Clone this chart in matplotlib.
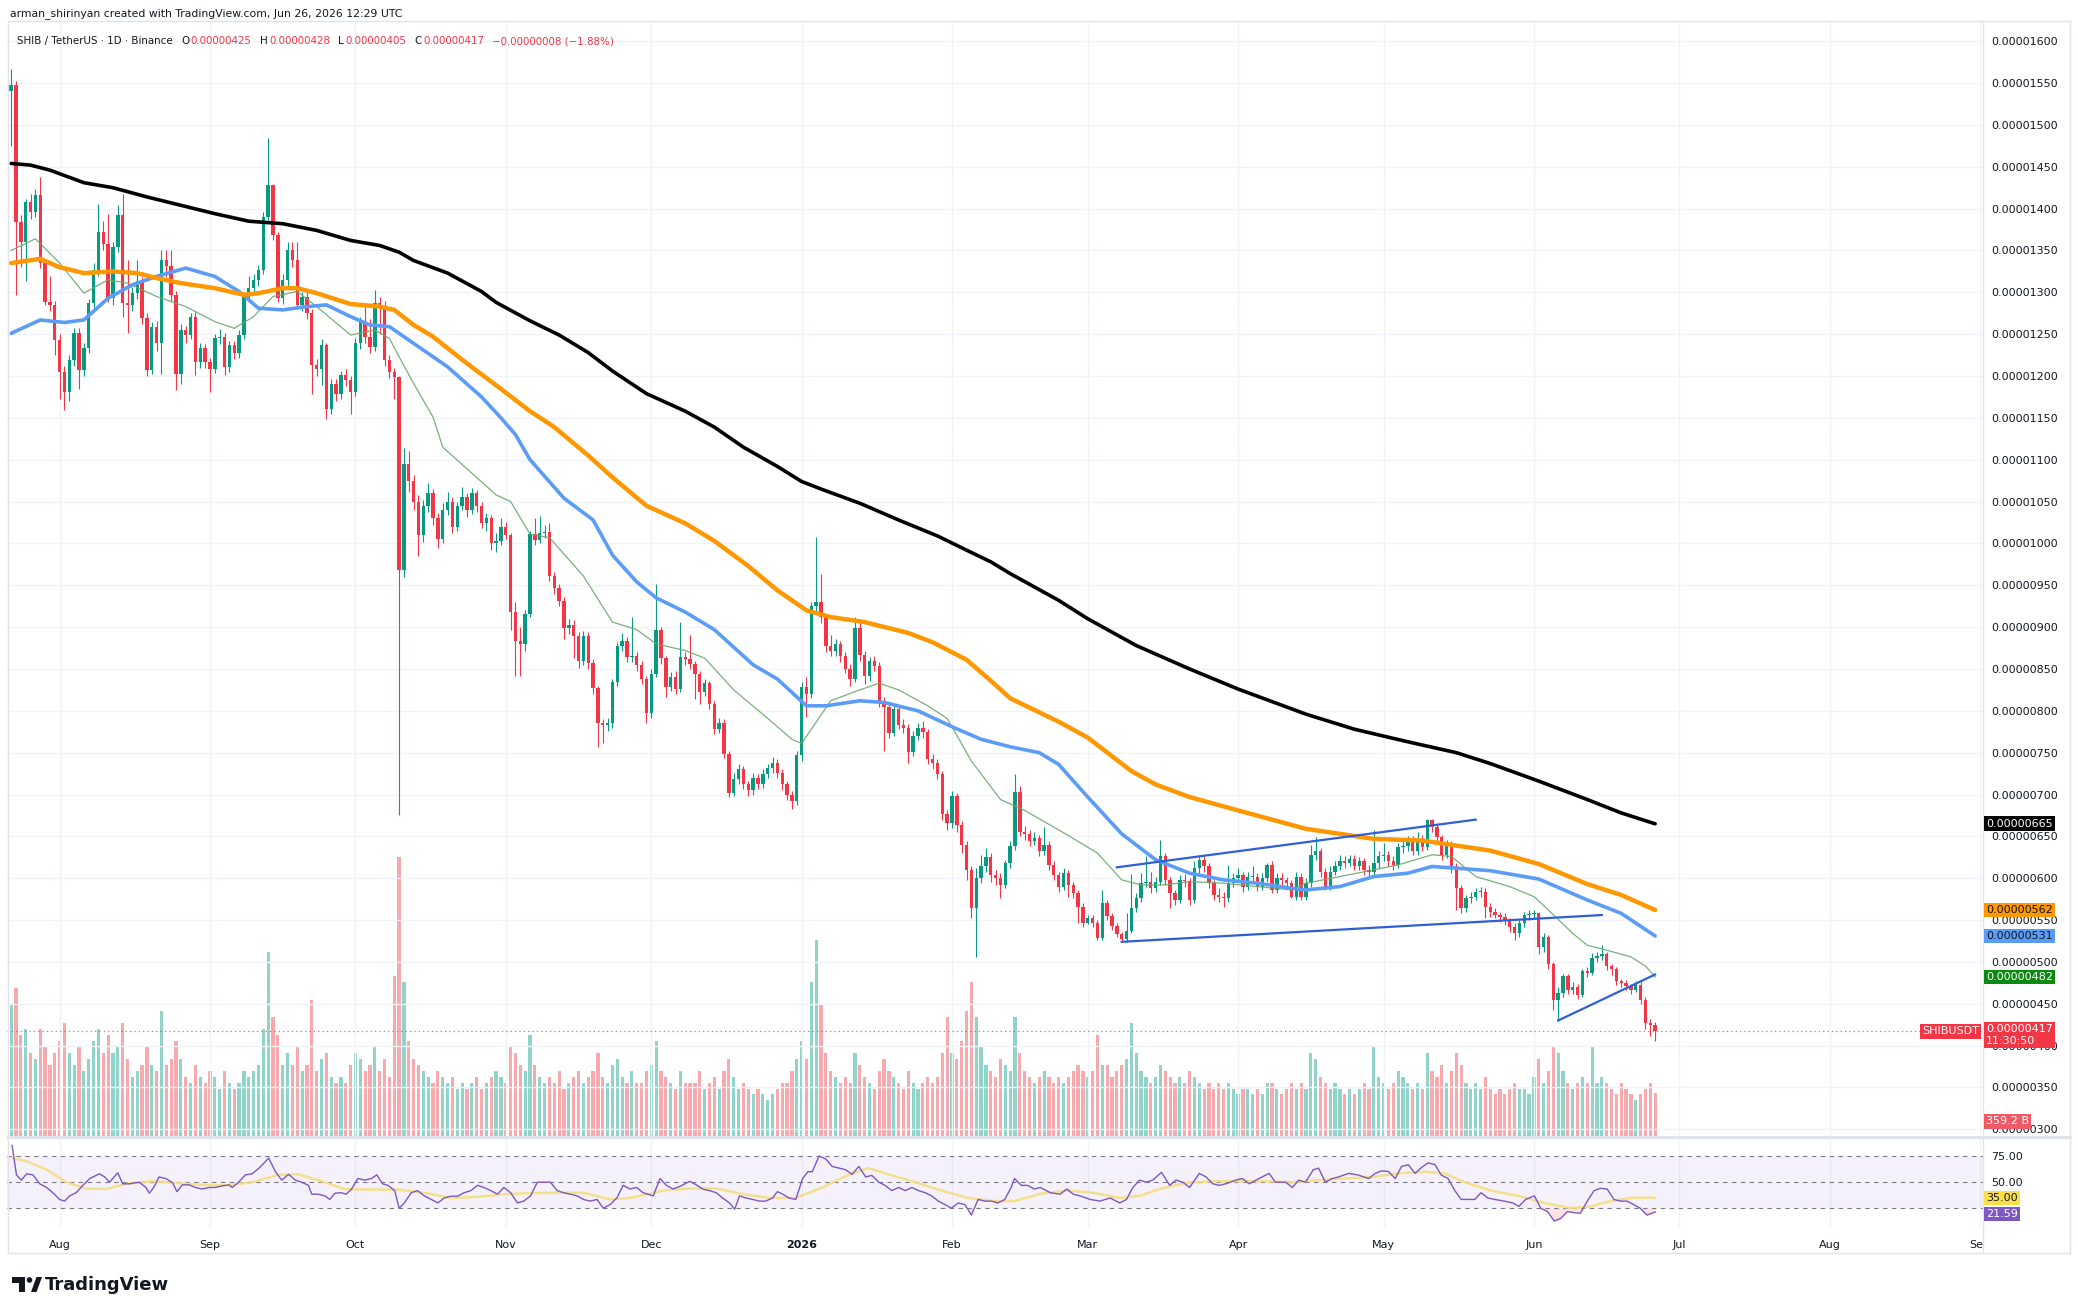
#!/usr/bin/env python3
# SHIB/USDT daily chart, TradingView style (price + MAs + volume, RSI pane)
import numpy as np
import pandas as pd
import matplotlib
matplotlib.use("Agg")
import matplotlib.pyplot as plt
from matplotlib import transforms
from matplotlib.lines import Line2D
from matplotlib.patches import Polygon, Ellipse
from matplotlib.offsetbox import TextArea, HPacker, AnchoredOffsetbox

W, H = 2078, 1314
UP, DOWN = "#089981", "#F23645"
TXT = "#131722"

# --- data (prices in units of 1e-8 USDT) ---
start_date = "2025-07-22"
first_open = 1540
closes = [
    1548, 1384, 1360, 1408, 1396, 1416, 1335, 1289, 1285, 1243,
    1205, 1181, 1219, 1251, 1207, 1233, 1287, 1327, 1372, 1358,
    1293, 1354, 1392, 1287, 1285, 1299, 1313, 1269, 1207, 1259,
    1239, 1339, 1331, 1297, 1203, 1255, 1249, 1271, 1217, 1233,
    1217, 1209, 1245, 1247, 1211, 1237, 1227, 1249, 1295, 1305,
    1315, 1327, 1390, 1428, 1368, 1293, 1315, 1350, 1339, 1285,
    1295, 1275, 1213, 1209, 1237, 1161, 1191, 1179, 1201, 1195,
    1181, 1239, 1265, 1247, 1235, 1287, 1283, 1219, 1205, 1199,
    968, 1095, 1075, 1050, 1010, 1045, 1060, 1030, 1005, 1040,
    1050, 1020, 1045, 1055, 1040, 1060, 1045, 1025, 1030, 1000,
    1003, 1020, 1010, 918, 884, 880, 916, 1011, 1004, 1012,
    1014, 961, 947, 931, 899, 903, 889, 859, 889, 857,
    827, 785, 783, 785, 834, 878, 884, 864, 866, 855,
    838, 797, 844, 897, 863, 829, 840, 826, 864, 862,
    856, 844, 823, 833, 808, 778, 785, 749, 702, 718,
    730, 712, 705, 720, 713, 725, 732, 738, 726, 712,
    700, 692, 747, 829, 820, 925, 930, 912, 878, 872,
    880, 865, 850, 838, 899, 867, 842, 859, 854, 810,
    805, 774, 802, 783, 780, 751, 770, 780, 775, 742,
    738, 725, 677, 666, 698, 664, 640, 610, 565, 600,
    615, 625, 604, 600, 592, 618, 639, 703, 655, 653,
    645, 648, 632, 640, 616, 604, 590, 606, 592, 582,
    566, 547, 552, 547, 528, 570, 555, 543, 533, 527,
    537, 564, 576, 594, 596, 588, 596, 626, 598, 582,
    574, 598, 597, 574, 612, 622, 614, 594, 580, 578,
    576, 594, 600, 604, 590, 602, 602, 590, 600, 616,
    586, 600, 598, 594, 578, 602, 578, 594, 628, 633,
    608, 590, 608, 614, 620, 618, 623, 615, 621, 610,
    608, 618, 626, 628, 620, 616, 637, 639, 645, 633,
    647, 637, 669, 661, 649, 628, 640, 614, 588, 564,
    576, 578, 584, 584, 566, 560, 556, 554, 549, 542,
    534, 546, 556, 557, 558, 518, 530, 497, 455, 463,
    483, 467, 470, 461, 489, 487, 505, 507, 509, 495,
    491, 477, 475, 471, 467, 473, 455, 427, 425, 417,
]
highs = [
    1567, 1552, 1392, 1412, 1418, 1424, 1438, 1340, 1319, 1290,
    1250, 1212, 1225, 1257, 1257, 1240, 1292, 1335, 1406, 1385,
    1394, 1360, 1404, 1418, 1339, 1306, 1339, 1318, 1275, 1265,
    1266, 1350, 1350, 1350, 1302, 1262, 1260, 1275, 1276, 1240,
    1238, 1222, 1250, 1256, 1252, 1242, 1242, 1255, 1300, 1319,
    1322, 1333, 1396, 1485, 1430, 1372, 1322, 1360, 1360, 1360,
    1301, 1300, 1280, 1220, 1244, 1240, 1196, 1197, 1206, 1208,
    1200, 1245, 1270, 1287, 1268, 1303, 1295, 1290, 1225, 1210,
    1200, 1114, 1110, 1082, 1058, 1052, 1072, 1065, 1036, 1048,
    1062, 1055, 1050, 1068, 1060, 1066, 1064, 1050, 1036, 1034,
    1012, 1030, 1026, 1012, 930, 900, 920, 1015, 1030, 1033,
    1022, 1025, 966, 952, 936, 910, 908, 894, 895, 894,
    862, 830, 790, 792, 838, 882, 893, 888, 912, 870,
    860, 842, 850, 951, 900, 866, 846, 848, 906, 870,
    891, 860, 848, 838, 836, 812, 792, 790, 752, 726,
    736, 734, 716, 726, 724, 730, 737, 745, 742, 730,
    716, 704, 752, 835, 840, 930, 1008, 963, 915, 890,
    886, 884, 870, 856, 912, 906, 872, 864, 866, 858,
    816, 808, 808, 806, 790, 784, 776, 786, 788, 778,
    748, 742, 728, 682, 704, 702, 668, 645, 614, 612,
    628, 636, 630, 610, 606, 622, 645, 724, 710, 662,
    658, 655, 652, 661, 644, 620, 608, 612, 610, 596,
    586, 570, 556, 556, 550, 586, 574, 558, 546, 536,
    559, 605, 582, 606, 627, 608, 602, 646, 630, 602,
    586, 604, 605, 600, 621, 628, 626, 618, 598, 588,
    584, 616, 606, 612, 608, 608, 614, 606, 606, 618,
    620, 606, 606, 602, 598, 608, 606, 600, 640, 649,
    636, 612, 614, 620, 628, 626, 628, 628, 625, 624,
    616, 658, 632, 642, 632, 626, 642, 647, 651, 650,
    655, 652, 671, 671, 666, 652, 646, 644, 618, 592,
    580, 584, 588, 590, 588, 570, 564, 560, 558, 552,
    546, 550, 560, 562, 562, 560, 534, 532, 500, 470,
    486, 486, 476, 474, 492, 494, 511, 512, 520, 512,
    498, 494, 480, 478, 474, 477, 476, 458, 432, 428,
]
lows = [
    1475, 1297, 1330, 1313, 1388, 1390, 1329, 1285, 1278, 1225,
    1173, 1159, 1170, 1212, 1185, 1200, 1228, 1280, 1320, 1350,
    1288, 1285, 1348, 1271, 1251, 1278, 1292, 1262, 1200, 1203,
    1230, 1203, 1318, 1290, 1183, 1191, 1240, 1244, 1201, 1210,
    1210, 1181, 1204, 1238, 1201, 1205, 1220, 1222, 1244, 1290,
    1298, 1308, 1322, 1385, 1362, 1288, 1286, 1308, 1330, 1280,
    1278, 1268, 1179, 1200, 1189, 1149, 1155, 1170, 1172, 1188,
    1155, 1176, 1232, 1240, 1228, 1230, 1250, 1212, 1198, 1173,
    675, 960, 1062, 1040, 985, 1002, 1038, 1022, 995, 1000,
    1034, 1012, 1015, 1040, 1032, 1035, 1038, 1018, 1015, 992,
    990, 998, 1005, 897, 842, 842, 872, 912, 998, 1000,
    1006, 955, 940, 925, 886, 892, 863, 851, 855, 850,
    820, 757, 762, 776, 780, 830, 872, 858, 858, 848,
    832, 786, 792, 840, 856, 816, 824, 820, 822, 855,
    850, 814, 808, 818, 802, 772, 774, 744, 697, 698,
    712, 706, 698, 700, 706, 708, 720, 726, 720, 705,
    694, 683, 688, 740, 793, 815, 918, 905, 870, 865,
    866, 858, 845, 830, 834, 860, 832, 836, 848, 804,
    752, 768, 770, 778, 774, 738, 746, 765, 768, 736,
    730, 718, 670, 658, 660, 655, 630, 598, 552, 506,
    594, 608, 596, 592, 576, 588, 612, 634, 650, 646,
    638, 640, 626, 628, 610, 598, 584, 586, 578, 576,
    547, 542, 545, 542, 526, 526, 550, 538, 530, 524,
    524, 534, 560, 572, 590, 582, 584, 592, 592, 564,
    568, 570, 590, 568, 570, 606, 608, 588, 574, 572,
    566, 572, 590, 596, 584, 586, 596, 585, 586, 596,
    582, 582, 592, 588, 576, 574, 574, 574, 590, 622,
    602, 586, 586, 604, 610, 612, 614, 610, 610, 604,
    602, 604, 612, 620, 614, 610, 612, 630, 632, 628,
    628, 632, 634, 655, 644, 622, 624, 606, 562, 558,
    560, 570, 574, 578, 552, 554, 552, 548, 544, 536,
    526, 530, 542, 550, 552, 510, 512, 492, 443, 431,
    458, 462, 462, 456, 458, 482, 484, 500, 502, 490,
    484, 472, 470, 466, 462, 464, 450, 420, 412, 405,
]
# volume in billions SHIB
volumes = [
    1100, 1250, 850, 900, 700, 650, 900, 750, 600, 700,
    800, 950, 700, 600, 750, 550, 650, 800, 900, 700,
    850, 700, 750, 950, 650, 500, 550, 600, 750, 600,
    550, 1050, 600, 650, 800, 650, 500, 450, 600, 500,
    450, 550, 500, 400, 550, 450, 400, 450, 550, 500,
    550, 600, 900, 1550, 1000, 850, 600, 700, 600, 750,
    550, 600, 1150, 550, 650, 700, 500, 450, 500, 450,
    600, 700, 650, 550, 600, 750, 550, 650, 500, 1350,
    2350, 1300, 800, 650, 600, 550, 500, 450, 550, 500,
    450, 500, 400, 450, 400, 450, 500, 400, 450, 500,
    550, 500, 450, 750, 700, 600, 550, 850, 600, 500,
    450, 500, 450, 550, 400, 450, 500, 550, 450, 500,
    550, 700, 500, 450, 600, 650, 500, 450, 550, 450,
    450, 550, 600, 800, 550, 500, 450, 400, 550, 450,
    450, 450, 550, 400, 450, 500, 400, 550, 650, 500,
    400, 450, 400, 350, 400, 350, 300, 350, 400, 450,
    450, 550, 650, 800, 650, 1300, 1650, 1100, 700, 550,
    500, 450, 500, 450, 700, 600, 500, 450, 400, 550,
    650, 550, 500, 450, 400, 550, 450, 400, 450, 500,
    450, 500, 700, 1000, 700, 650, 800, 1050, 1300, 1000,
    750, 600, 550, 500, 650, 600, 550, 1000, 700, 550,
    500, 450, 500, 550, 500, 450, 500, 450, 500, 550,
    600, 550, 500, 550, 850, 600, 600, 500, 550, 600,
    650, 950, 700, 550, 500, 450, 500, 600, 550, 500,
    450, 500, 450, 550, 500, 450, 400, 450, 400, 450,
    400, 450, 400, 350, 400, 400, 350, 400, 350, 450,
    450, 400, 350, 400, 450, 400, 450, 400, 700, 650,
    500, 450, 400, 450, 400, 350, 400, 350, 400, 450,
    400, 750, 500, 450, 400, 450, 550, 500, 450, 400,
    450, 400, 700, 550, 500, 600, 450, 550, 700, 600,
    450, 400, 450, 400, 500, 400, 350, 400, 350, 400,
    450, 400, 400, 350, 500, 650, 450, 550, 750, 700,
    550, 450, 400, 450, 500, 450, 750, 450, 500, 450,
    400, 350, 450, 400, 350, 300, 350, 400, 450, 359.2,
]

# moving averages (day index, value)
ma200_days = [0, 4, 8, 15, 21, 28, 35, 42, 49, 56, 63, 70, 76, 80, 83, 90, 97, 100, 107, 113,
              119, 124, 131, 139, 145, 151, 158, 163, 167, 175, 183, 191, 197, 202, 206, 216, 222, 232, 243, 253,
              267, 277, 288, 298, 305, 315, 325, 332, 339]
ma200_vals = [1454, 1452, 1446, 1431, 1425, 1414, 1404, 1394, 1385, 1382, 1374, 1362, 1356, 1348, 1338, 1323, 1301, 1288, 1266, 1249,
              1228, 1206, 1179, 1158, 1139, 1115, 1092, 1074, 1065, 1048, 1028, 1009, 992, 978, 964, 932, 910, 878, 850, 826,
              796, 778, 763, 750, 737, 716, 694, 678, 665]
ma100_days = [0, 6, 10, 15, 21, 26, 30, 35, 42, 48, 51, 56, 59, 63, 70, 76, 79, 83, 87, 94,
              100, 107, 112, 119, 124, 131, 139, 145, 152, 158, 164, 169, 176, 185, 190, 197, 202, 206, 216, 222,
              231, 236, 243, 253, 267, 274, 281, 291, 298, 305, 315, 325, 332, 339]
ma100_vals = [1335, 1340, 1330, 1323, 1325, 1323, 1317, 1311, 1305, 1297, 1299, 1305, 1305, 1299, 1286, 1283, 1279, 1261, 1247, 1215,
              1189, 1158, 1139, 1105, 1079, 1045, 1024, 1003, 973, 944, 920, 912, 906, 893, 882, 861, 836, 815, 787, 768,
              728, 712, 697, 681, 659, 653, 647, 645, 639, 633, 617, 593, 580, 562]
ma50_days = [0, 6, 11, 15, 20, 25, 30, 36, 42, 47, 51, 56, 61, 65, 70, 74, 78, 83, 90, 97,
             101, 104, 107, 114, 120, 124, 129, 133, 139, 145, 153, 158, 164, 168, 175, 180, 187, 194, 200, 206,
             212, 216, 222, 229, 236, 243, 250, 257, 264, 267, 274, 281, 288, 293, 298, 305, 315, 325, 332, 339]
ma50_vals = [1251, 1267, 1264, 1267, 1293, 1309, 1319, 1329, 1319, 1301, 1281, 1279, 1283, 1285, 1271, 1261, 1259, 1239, 1211, 1175,
             1150, 1130, 1100, 1054, 1028, 986, 954, 935, 918, 897, 855, 838, 806, 806, 812, 810, 800, 781, 766, 757,
             750, 736, 697, 653, 622, 606, 598, 594, 588, 586, 590, 602, 606, 614, 612, 609, 599, 574, 558, 531]
ma20_days = [0, 5, 10, 15, 20, 24, 30, 36, 42, 46, 50, 54, 59, 63, 70, 75, 78, 80, 83, 87,
             89, 100, 103, 107, 111, 118, 124, 129, 133, 139, 143, 149, 156, 161, 163, 165, 169, 175, 179, 183,
             189, 193, 198, 204, 209, 218, 224, 229, 233, 238, 243, 250, 257, 264, 267, 274, 281, 286, 293, 297,
             302, 309, 314, 317, 322, 325, 329, 334, 337, 339]
ma20_vals = [1350, 1364, 1335, 1299, 1315, 1311, 1295, 1283, 1265, 1257, 1271, 1295, 1301, 1283, 1249, 1255, 1245, 1223, 1191, 1151,
             1115, 1058, 1050, 1011, 1007, 961, 906, 897, 880, 872, 863, 825, 791, 766, 761, 778, 812, 825, 833, 825,
             806, 791, 740, 694, 681, 651, 630, 598, 592, 592, 596, 594, 590, 586, 594, 602, 610, 616, 628, 626,
             602, 590, 578, 562, 534, 520, 514, 506, 495, 482]

# drawn trend lines (day, price)
chan_top = ([228, 302], [613, 670])
chan_bot = ([229, 328], [524, 556])
tri_line = ([319, 339], [430, 485])

rsi_pts = [
    (0.2, 85), (1.1, 57), (2.1, 52), (3.2, 58), (4.5, 57), (5.9, 48.5), (7.3, 45), (8.6, 40), (10, 33.6), (11, 32),
    (12.1, 37), (13.4, 40), (14.8, 47), (16.2, 53.5), (18.2, 58), (19.3, 55), (20.3, 50), (22, 59), (23, 48.5), (24.4, 48.5),
    (26.4, 50), (27.8, 45), (28.5, 39.6), (29.4, 45), (30.5, 55), (31.9, 53.5), (33.3, 49.5), (34.2, 41), (35.3, 47.5), (36.7, 47.5),
    (38, 45), (39.4, 43.5), (40.8, 45), (42.1, 45), (43.5, 46.5), (44.9, 47.5), (45.6, 45), (46.9, 50), (48.3, 57), (49.7, 58),
    (51, 63), (52.1, 68), (53.1, 73), (54.5, 60), (55.8, 52), (57.2, 57.5), (58.6, 52), (59.9, 50), (61.3, 47), (62, 38.6),
    (63.3, 38.6), (64.7, 37), (65.7, 33.6), (66.8, 39.6), (68.1, 40), (69.1, 38.6), (70.2, 43.5), (71.5, 53.5), (72.9, 52), (74.3, 53.5),
    (75.4, 57), (76.6, 48.5), (77.7, 47), (79.1, 42), (80, 25.3), (81.1, 30.3), (82.5, 40), (83.8, 42), (85.2, 37), (86.6, 33.6),
    (88, 30.3), (89.3, 35), (90.7, 36.7), (92.1, 36.7), (93.4, 40), (94.8, 42), (96.2, 47), (97.5, 45), (98.9, 42), (100.3, 38.6),
    (101.6, 45), (103, 40), (104.4, 30.3), (105.7, 32), (107.1, 37), (108.5, 50), (109.8, 50), (111.2, 50), (112.6, 42), (113.9, 40),
    (115.3, 38.6), (116.7, 37), (118, 33.6), (119.4, 32), (120.8, 33.6), (122.1, 25.3), (123.5, 28.6), (124.9, 35), (126.2, 47), (127.6, 43.5),
    (129, 45), (130.3, 40), (132.4, 37), (133.8, 53.5), (135.1, 47), (136.5, 43.5), (137.9, 46), (139.9, 50.8), (141.3, 47.5), (142.6, 43.5),
    (144, 42), (145.4, 40), (146.7, 35), (148.1, 30.3), (149.2, 24.3), (150.2, 37), (151.5, 35), (152.9, 33.6), (154.3, 32), (155.6, 32),
    (157, 35), (158, 41), (159.1, 38.6), (160.4, 35), (161.8, 33.6), (163.2, 53.5), (164.3, 60), (165.2, 60), (166.6, 75), (168, 72),
    (169.3, 65), (170.7, 63.5), (172, 62), (173.4, 57.5), (174.8, 65), (176.2, 55), (177.5, 56.5), (178.9, 50), (180.2, 47), (181.6, 42),
    (183, 45), (184.4, 42), (185.7, 45), (187.1, 42), (188.5, 40), (189.8, 37), (191.2, 32), (192.6, 28.6), (193.9, 25.3), (195.3, 30.3),
    (196.7, 28.6), (198, 18.7), (199.4, 33.6), (200.8, 32), (202.1, 32), (203.5, 30.3), (204.9, 33.6), (206.2, 45), (206.9, 53.5), (208.3, 47),
    (209.6, 47), (211, 43.5), (212.2, 45), (214.3, 40), (216.3, 38.6), (217.7, 43.5), (219, 38.6), (220.4, 37), (222.5, 33.6), (224.5, 32),
    (226.6, 35), (228.6, 30.3), (230, 33.6), (231.3, 45), (232.7, 52), (234.1, 50), (235.4, 52), (237.2, 59.4), (238.9, 47), (240.2, 52),
    (241.6, 50), (243, 45), (245, 58.4), (246.4, 55), (247.8, 48.5), (249.1, 47), (250.5, 48.5), (252.5, 52), (253.9, 53.5), (255.3, 48.5),
    (257.3, 53.5), (259.4, 58.4), (260.7, 50), (262.8, 50), (264.2, 45), (265.5, 52), (266.9, 50), (268.5, 61.8), (269.6, 63.4), (271, 50),
    (272.4, 53.5), (273.7, 55), (275.8, 58.4), (277.8, 56.8), (279.9, 53.5), (281.3, 58.4), (282.6, 60.8), (284, 60.2), (285.4, 53.5), (286.7, 65),
    (288.1, 66.7), (289.5, 58.4), (290.8, 64), (292.2, 68.4), (293.6, 66.7), (294.9, 56.8), (296.3, 53.5), (297.7, 42), (299, 33.6), (300.4, 33.6),
    (301.8, 33.6), (303.1, 40), (304.5, 35), (305.9, 33.6), (307.9, 32), (309.6, 30.3), (310.9, 27), (312.3, 33.6), (314.1, 37), (315.4, 25.3),
    (316.8, 22), (318.2, 13), (319.5, 15.4), (320.9, 22), (322.3, 21), (323.6, 20.4), (325, 32), (326.4, 42), (327.7, 44.2), (329.1, 43.5),
    (330.5, 33.6), (331.8, 32), (333.2, 32), (334.6, 28.6), (335.9, 25.3), (337.3, 18.7), (339, 21.59),
]
rsi_ma_pts = [
    (0.2, 73), (3.2, 70), (7.3, 62), (11.4, 50), (15.5, 44), (19.6, 43.5), (23.7, 48.5), (29.2, 51), (33.3, 49.5), (38.7, 47.5),
    (44.2, 47), (49.7, 50), (55.1, 57), (59.2, 57.5), (63.3, 52), (68.8, 43.5), (74.3, 43), (79.7, 43), (85.2, 40), (90.7, 35),
    (96.2, 36), (101.6, 38.6), (107.1, 39.6), (112.6, 40), (118, 40), (123.5, 33.6), (127.6, 35), (134.4, 42), (139.9, 44), (145.4, 44),
    (150.9, 38.6), (156.3, 35), (161.8, 35), (167.3, 45), (172.7, 57), (176.8, 63.4), (180.9, 57.5), (186.4, 50), (191.9, 42), (197.3, 35),
    (202.8, 32), (206.9, 32), (212.2, 39), (217.7, 42), (223.1, 40), (228.6, 35), (232.7, 37), (236.8, 43.5), (242.3, 49.5), (247.8, 51),
    (253.2, 51), (258.7, 51), (264.2, 50), (269.6, 52), (275.1, 53.5), (280.6, 55), (286, 58.4), (291.5, 60), (295.6, 58.4), (299.7, 50),
    (305.2, 42), (310.7, 37), (316.1, 30.3), (321.6, 25.3), (325.7, 27), (329.8, 32), (333.9, 35), (338, 35.5), (339, 35.0),
]


def px_rect(x0, y0, x1, y1):
    return [x0 / W, 1 - y1 / H, (x1 - x0) / W, (y1 - y0) / H]


def P(x, y):
    return (x / W, 1 - y / H)


def fmt_price(v):
    return f"{v * 1e-8:.8f}"


dates = pd.date_range(start_date, periods=len(closes), freq="D")
t0 = dates[0]
x = np.arange(len(closes))
c = np.array(closes, float)
o = np.concatenate([[first_open], c[:-1]])
hi = np.array(highs, float)
lo = np.array(lows, float)
up = c >= o
cols = np.where(up, UP, DOWN)

months = pd.date_range("2025-08-01", "2026-09-01", freq="MS")
month_x = np.asarray((months - t0).days)
month_lbl = [str(m.year) if m.month == 1 else m.strftime("%b") for m in months]

fig = plt.figure(figsize=(W / 100, H / 100), dpi=100)
fig.patch.set_facecolor("white")

pane = px_rect(7, 22, 1983, 1136)
vax = fig.add_axes(pane, zorder=0)
ax = fig.add_axes(pane, zorder=1)
rax = fig.add_axes(px_rect(7, 1138, 1983, 1228), zorder=1)
XL = (-0.85, 406.6)
for a in (vax, ax, rax):
    a.set_xlim(*XL)
    for s in a.spines.values():
        s.set_visible(False)

# volume (overlay at the bottom of the price pane)
vax.set_ylim(0, 9390)
vcols = np.where(up, "#8fd3c9", "#f7a9ae")
vax.bar(x, volumes, width=0.66, color=vcols, linewidth=0)
vax.set_xticks([])
vax.set_yticks([])

# price pane
ax.patch.set_visible(False)
ax.set_ylim(292, 1623)
ax.set_yticks(np.arange(300, 1601, 50))
ax.set_yticklabels([fmt_price(v) for v in np.arange(300, 1601, 50)])
ax.yaxis.tick_right()
ax.tick_params(axis="y", length=0, pad=6, labelsize=8, labelcolor=TXT)
ax.set_xticks(month_x)
ax.tick_params(axis="x", length=0, labelbottom=False)
ax.grid(True, color="#f0f3fa", lw=1.0)
ax.set_axisbelow(True)

ax.vlines(x, lo, hi, colors=cols, lw=0.8, zorder=2)
ax.bar(x, np.maximum(np.abs(c - o), 1.0), bottom=np.minimum(o, c), width=0.7,
       color=cols, linewidth=0, zorder=2)

ax.plot(ma20_days, ma20_vals, color="#6aa86b", lw=0.9, alpha=0.9, zorder=3)
ax.plot(ma50_days, ma50_vals, color="#5b9cf6", lw=2.6, zorder=3, solid_capstyle="round", solid_joinstyle="round")
ax.plot(ma100_days, ma100_vals, color="#ff9800", lw=3.2, zorder=3, solid_capstyle="round", solid_joinstyle="round")
ax.plot(ma200_days, ma200_vals, color="#000000", lw=2.6, zorder=3, solid_capstyle="round", solid_joinstyle="round")

for days, vals in (chan_top, chan_bot, tri_line):
    ax.plot(days, vals, color="#2f5fd6", lw=1.6, zorder=4)

ax.axhline(closes[-1], color=DOWN, lw=0.9, ls=(0, (1, 2.5)), alpha=0.8, zorder=1)

# RSI pane
rax.set_ylim(6.4, 92.1)
rax.axhspan(25, 75, color="#7e57c2", alpha=0.08, lw=0)
for lvl in (75, 50, 25):
    rax.axhline(lvl, color="#787b86", lw=0.8, ls=(0, (4, 4)))
rx = np.array([p[0] for p in rsi_pts])
ry = np.array([p[1] for p in rsi_pts])
rax.fill_between(rx, ry, 25, where=ry < 25, interpolate=True, color="#f23645", alpha=0.15, lw=0)
rax.plot([p[0] for p in rsi_ma_pts], [p[1] for p in rsi_ma_pts], color="#f5dc7a", lw=1.8, alpha=0.85)
rax.plot(rx, ry, color="#7e57c2", lw=1.0)
rax.yaxis.tick_right()
rax.set_yticks([75, 50])
rax.set_yticklabels(["75.00", "50.00"])
rax.tick_params(axis="y", length=0, pad=6, labelsize=8, labelcolor=TXT)
rax.set_xticks(month_x)
rax.set_xticklabels(month_lbl)
rax.tick_params(axis="x", length=0, pad=9, labelsize=8, labelcolor=TXT)
rax.grid(True, axis="x", color="#f0f3fa", lw=1.0)
rax.set_axisbelow(True)
clipbox = transforms.TransformedBbox(transforms.Bbox([[0, 0], [1983 / W, 1]]), fig.transFigure)
for lbl in rax.get_xticklabels():
    if lbl.get_text() == "2026":
        lbl.set_fontweight("bold")
    lbl.set_clip_box(clipbox)
    lbl.set_clip_on(True)


# axis badges
def badge(axis, yval, text, bg, fg, dy=0, x0=1986, va="center", **kw):
    tr = transforms.blended_transform_factory(fig.transFigure, axis.transData)
    tr = transforms.offset_copy(tr, fig=fig, y=dy, units="dots")
    fig.text(x0 / W, yval, text, transform=tr, ha="left", va=va, fontsize=8, color=fg,
             bbox=dict(boxstyle="square,pad=0.22", fc=bg, ec="none"), zorder=5, **kw)


badge(ax, ma200_vals[-1], fmt_price(ma200_vals[-1]), "#000000", "white")
badge(ax, ma100_vals[-1], fmt_price(ma100_vals[-1]), "#ff9800", TXT)
badge(ax, ma50_vals[-1], fmt_price(ma50_vals[-1]), "#5b9cf6", TXT)
badge(ax, ma20_vals[-1], fmt_price(ma20_vals[-1]), "#0b8a12", "white")
badge(ax, closes[-1], fmt_price(closes[-1]) + "\n11:30:50", DOWN, "white", dy=7, va="top",
      linespacing=1.15)
badge(vax, volumes[-1], f"{volumes[-1]:.1f} B", "#ef5a66", "white", dy=-28)
badge(rax, rsi_ma_pts[-1][1], f"{rsi_ma_pts[-1][1]:.2f}", "#f9df4a", TXT)
badge(rax, rsi_ma_pts[-1][1], f"{rsi_pts[-1][1]:.2f}", "#7e57c2", "white", dy=-16)

sym_tr = transforms.blended_transform_factory(fig.transFigure, ax.transData)
fig.text(1979 / W, closes[-1], "SHIBUSDT", transform=sym_tr, ha="right", va="center",
         fontsize=8, color="white", bbox=dict(boxstyle="square,pad=0.22", fc=DOWN, ec="none"), zorder=5)

# header
fig.text(10 / W, 1 - 14 / H, "arman_shirinyan created with TradingView.com, Jun 26, 2026 12:29 UTC",
         fontsize=7.8, color=TXT, va="center")
o_last, h_last, l_last, c_last = closes[-2], highs[-1], lows[-1], closes[-1]
chg = c_last - o_last
groups = [
    [("SHIB / TetherUS · 1D · Binance", TXT)],
    [("O", TXT), (fmt_price(o_last), DOWN)],
    [("H", TXT), (fmt_price(h_last), DOWN)],
    [("L", TXT), (fmt_price(l_last), DOWN)],
    [("C", TXT), (fmt_price(c_last), DOWN)],
    [(f"\u2212{fmt_price(abs(chg))} (\u2212{abs(chg) / o_last * 100:.2f}%)", DOWN)],
]
boxes = []
for g in groups:
    parts = [TextArea(t, textprops=dict(color=col, fontsize=7.4)) for t, col in g]
    boxes.append(HPacker(children=parts, align="baseline", pad=0, sep=1))
legend = AnchoredOffsetbox(loc="center left", child=HPacker(children=boxes, align="baseline", pad=0, sep=6),
                           bbox_to_anchor=P(17, 41), bbox_transform=fig.transFigure,
                           frameon=False, pad=0, borderpad=0)
fig.add_artist(legend)

# frame lines
fc = "#e0e3eb"
for xs, ys, lw in (([8, 2070], [21, 21], 1), ([8, 2070], [1253, 1253], 1), ([8, 8], [21, 1253], 1),
                   ([2070, 2070], [21, 1253], 1), ([1983, 1983], [21, 1253], 1),
                   ([8, 2070], [1137, 1137], 2.2)):
    fig.add_artist(Line2D([v / W for v in xs], [1 - v / H for v in ys], transform=fig.transFigure,
                          color=fc, lw=lw))

# TradingView logo
logo = "#131722"
fig.add_artist(Polygon([P(12, 1277), P(25, 1277), P(25, 1292), P(19, 1292), P(19, 1283), P(12, 1283)],
                       closed=True, transform=fig.transFigure, fc=logo, ec="none"))
fig.add_artist(Ellipse(P(29.5, 1280), 5.6 / W, 5.6 / H, transform=fig.transFigure, fc=logo, ec="none"))
fig.add_artist(Polygon([P(31, 1292), P(36.5, 1277), P(42, 1277), P(36.5, 1292)],
                       closed=True, transform=fig.transFigure, fc=logo, ec="none"))
fig.text(45 / W, 1 - 1285 / H, "TradingView", fontsize=13, fontweight="bold", color=logo, va="center")

fig.savefig("out.png", dpi=100, facecolor="white")
